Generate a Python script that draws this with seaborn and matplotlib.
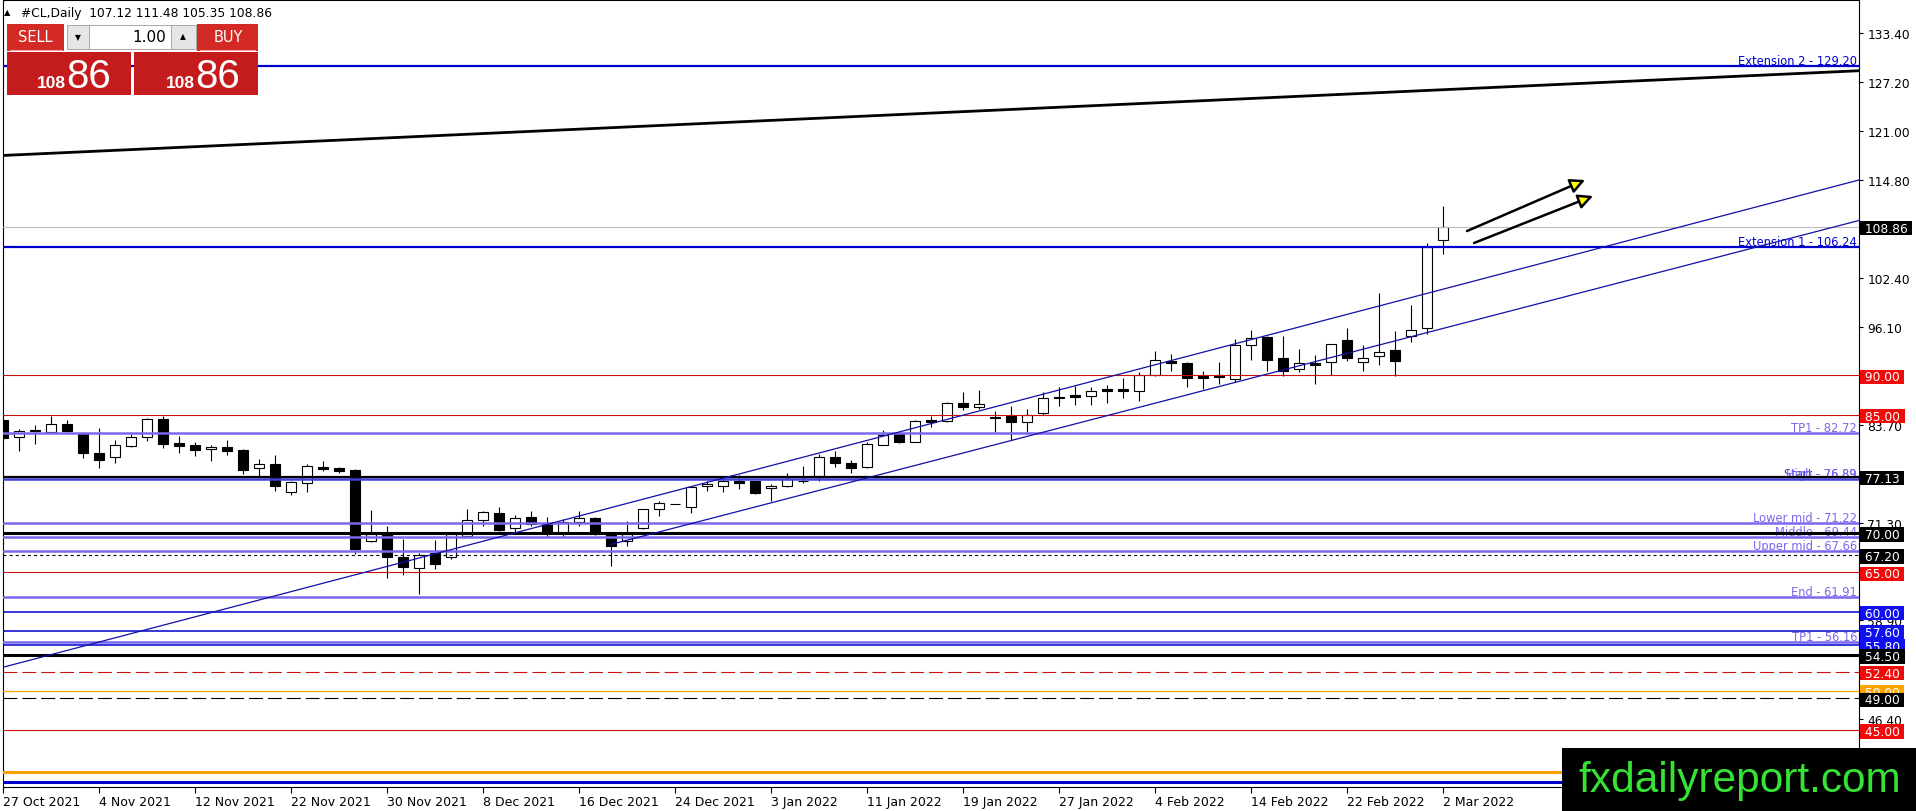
import numpy as np
import pandas as pd
import seaborn as sns
import matplotlib.pyplot as plt
import matplotlib.transforms as mtransforms
from matplotlib.patches import Rectangle

# #CL daily bars, one per weekday from 27 Oct 2021 to 2 Mar 2022
opens = [84.33, 82.13, 83.10, 82.85, 83.78, 82.68, 80.14, 79.59, 80.98, 82.13,
         84.45, 81.40, 81.15, 80.60, 80.90, 80.52, 78.19, 78.74, 75.15, 76.29,
         78.32, 78.19, 77.98, 69.02, 70.00, 66.91, 65.51, 67.46, 66.91, 69.57,
         71.69, 72.54, 70.59, 71.99, 71.14, 70.17, 71.35, 71.90, 69.87, 69.02,
         70.59, 73.04, 73.70, 73.25, 76.00, 75.91, 76.59, 76.55, 75.66, 75.91,
         76.60, 77.18, 79.59, 78.83, 78.32, 81.20, 82.55, 81.58, 84.33, 84.16,
         86.49, 86.02, 84.60, 84.88, 84.04, 85.17, 87.29, 87.50, 87.33, 88.26,
         88.26, 87.96, 90.08, 91.81, 91.56, 89.87, 90.04, 89.53, 93.85, 94.82,
         92.15, 90.80, 91.52, 91.64, 94.48, 91.64, 92.41, 93.21, 94.95, 95.96,
         107.12]
highs = [84.50, 83.18, 83.69, 84.88, 84.37, 82.75, 83.31, 81.79, 82.55, 84.62,
         84.88, 82.34, 81.50, 81.15, 81.74, 80.65, 79.38, 79.88, 76.63, 78.74,
         79.08, 78.40, 78.10, 72.92, 70.93, 69.24, 67.46, 69.11, 70.08, 73.04,
         72.83, 73.25, 72.28, 72.83, 71.99, 71.78, 72.83, 72.00, 70.08, 71.56,
         73.04, 74.10, 73.72, 76.00, 76.63, 77.27, 77.35, 76.60, 76.21, 77.56,
         78.54, 80.02, 80.36, 79.30, 81.50, 83.06, 82.85, 84.33, 84.80, 86.66,
         87.93, 88.18, 85.52, 86.07, 85.73, 87.93, 88.47, 88.68, 88.47, 88.77,
         89.61, 90.38, 93.13, 92.70, 91.65, 90.59, 91.64, 94.61, 95.75, 95.03,
         94.95, 93.34, 92.58, 93.93, 95.96, 93.85, 100.44, 95.66, 98.92, 106.75,
         111.48]
lows = [81.90, 80.43, 81.28, 82.80, 82.76, 79.55, 78.19, 78.83, 80.90, 81.70,
        80.73, 80.10, 79.72, 79.17, 79.93, 77.52, 77.26, 75.27, 74.81, 75.15,
        77.90, 77.60, 67.33, 68.81, 64.29, 64.71, 62.26, 65.43, 66.70, 69.50,
        70.93, 70.29, 70.08, 70.93, 69.45, 69.45, 70.93, 69.75, 65.85, 68.39,
        70.50, 72.20, 73.62, 72.49, 75.37, 75.24, 75.58, 75.00, 74.10, 75.85,
        76.30, 76.63, 78.41, 77.61, 78.25, 81.15, 81.37, 81.50, 83.40, 84.04,
        85.64, 85.73, 82.77, 81.84, 82.77, 84.96, 86.06, 86.27, 86.27, 86.44,
        87.08, 86.70, 89.95, 90.59, 88.47, 88.26, 88.90, 89.11, 91.98, 90.59,
        89.87, 90.38, 88.90, 90.04, 91.86, 90.59, 91.30, 89.95, 94.27, 95.24,
        105.35]
closes = [82.00, 82.89, 82.95, 83.78, 82.93, 80.10, 79.29, 81.15, 82.13, 84.45,
          81.24, 81.07, 80.56, 80.90, 80.40, 78.02, 78.74, 75.91, 76.42, 78.45,
          78.15, 77.90, 67.97, 69.87, 66.91, 65.64, 67.25, 66.06, 69.87, 71.65,
          72.62, 70.42, 71.86, 71.14, 70.00, 71.44, 71.90, 69.87, 68.39, 69.87,
          73.04, 73.76, 73.67, 75.79, 76.15, 76.55, 76.38, 75.11, 75.91, 76.84,
          76.65, 79.59, 78.83, 78.28, 81.24, 82.47, 81.58, 84.16, 84.12, 86.45,
          86.02, 86.32, 84.75, 84.04, 85.01, 87.08, 87.08, 87.20, 88.05, 88.05,
          87.96, 90.08, 91.94, 91.52, 89.61, 89.66, 89.83, 93.85, 94.69, 91.98,
          90.50, 91.60, 91.35, 93.93, 92.15, 92.15, 92.92, 91.86, 95.75, 106.24,
          108.86]

date_labels = ['27 Oct 2021', '4 Nov 2021', '12 Nov 2021', '22 Nov 2021', '30 Nov 2021',
               '8 Dec 2021', '16 Dec 2021', '24 Dec 2021', '3 Jan 2022', '11 Jan 2022',
               '19 Jan 2022', '27 Jan 2022', '4 Feb 2022', '14 Feb 2022', '22 Feb 2022',
               '2 Mar 2022']
bars_per_label = 6

price_ticks = [133.40, 127.20, 121.00, 114.80, 108.60, 102.40, 96.10, 90.00,
               83.70, 77.50, 71.30, 65.10, 58.90, 52.60, 46.40]

# horizontal levels
level_prices = [129.20, 108.86, 106.24, 90.00, 85.00, 82.72, 77.13, 76.89, 71.22, 70.00,
                69.44, 67.66, 67.20, 65.00, 61.91, 60.00, 57.60, 56.16, 55.80, 54.50,
                52.40, 50.00, 49.00, 45.00, 39.70, 38.45]
PURPLE = '#7B68EE'
BLUE = '#0000CD'
RED = '#CC1010'
level_styles = [(BLUE, 1.6, '-'), ('#BDBDBD', 0.8, '-'), (BLUE, 1.6, '-'), (RED, 0.8, '-'),
                (RED, 0.8, '-'), (PURPLE, 1.8, '-'), ('black', 1.6, '-'), ('#4040DD', 1.8, '-'),
                (PURPLE, 1.8, '-'), ('black', 2.2, '-'), (PURPLE, 1.8, '-'), (PURPLE, 1.8, '-'),
                ('black', 0.8, (0, (2.2, 2.2))), (RED, 0.8, '-'), (PURPLE, 1.8, '-'),
                (BLUE, 1.1, '-'), (BLUE, 1.1, '-'), (PURPLE, 1.8, '-'), (BLUE, 1.1, '-'),
                ('black', 2.2, '-'), (RED, 0.8, (0, (10, 3.6))), ('#FFA500', 0.9, '-'),
                ('black', 0.8, (0, (10, 3.6))), (RED, 0.8, '-'), ('#F5A000', 2.2, '-'),
                (BLUE, 2.2, '-')]

note_texts = ['Extension 2 - 129.20', 'Extension 1 - 106.24', 'TP1 - 82.72', 'Start - 76.89',
              'High - 76.89', 'Lower mid - 71.22', 'Middle - 69.44', 'Upper mid - 67.66',
              'End - 61.91', 'TP1 - 56.16']
note_prices = [129.20, 106.24, 82.72, 76.89, 76.89, 71.22, 69.44, 67.66, 61.91, 56.16]
note_colors = [BLUE, BLUE, PURPLE, '#4040DD', PURPLE, PURPLE, PURPLE, PURPLE, PURPLE, PURPLE]

box_prices = [108.86, 90.00, 85.00, 77.13, 70.00, 67.20, 65.00, 60.00, 57.60, 55.80,
              54.50, 52.40, 50.00, 49.00, 45.00]
box_colors = ['black', '#F00A0A', '#F00A0A', 'black', 'black', 'black', '#F00A0A', '#1010F0',
              '#1010F0', '#1010F0', 'black', '#F00A0A', '#FFA500', 'black', '#F00A0A']

# trend lines: (bar, price) anchors, drawn as rays to the right edge
channel_upper = ([0, 90], [52.96, 100.93])
channel_lower = ([38, 90], [68.55, 95.95])
top_trend = ([0, 116], [117.90, 128.65])
arrow_tails = [(91.5, 108.31), (91.94, 106.79)]
arrow_tips = [(98.88, 114.79), (99.38, 112.76)]

sns.set_theme(style='white')
plt.rcParams['font.family'] = ['DejaVu Sans']
plt.rcParams['lines.scale_dashes'] = False

W, H = 1916, 812
fig = plt.figure(figsize=(W / 100, H / 100), dpi=100, facecolor='white')
ax = fig.add_axes([3 / W, 24 / H, 1856 / W, 787 / H])
ax.set_facecolor('white')
XMAX = 116
ax.set_xlim(0, XMAX)
ax.set_ylim(37.765, 137.625)

n = len(opens)
df = pd.DataFrame({'bar': np.arange(n), 'open': opens, 'high': highs,
                   'low': lows, 'close': closes})
up = df['close'] >= df['open']

# levels
for p, (c, lw, ls) in zip(level_prices, level_styles):
    ax.axhline(p, color=c, lw=lw, ls=ls, zorder=3 if c == 'black' else 2.8)

# candles
ax.vlines(df['bar'], df['low'], df['high'], color='black', lw=0.8, zorder=2)
body = (df['close'] - df['open']).abs().clip(lower=0.05)
ax.bar(df['bar'], body, bottom=df[['open', 'close']].min(axis=1), width=0.66,
       color=np.where(up, 'white', 'black'), edgecolor='black', linewidth=0.8, zorder=2.5)

# trend lines
def ray(anchor, x_end):
    xs, ys = anchor
    slope = (ys[1] - ys[0]) / (xs[1] - xs[0])
    return pd.DataFrame({'x': [xs[0], x_end], 'y': [ys[0], ys[0] + slope * (x_end - xs[0])]})

for anchor, col, lw in [(channel_upper, '#1010A8', 0.9), (channel_lower, '#1010A8', 0.9),
                        (top_trend, 'black', 2.0)]:
    seg = ray(anchor, XMAX)
    sns.lineplot(data=seg, x='x', y='y', color=col, lw=lw, ax=ax, zorder=3.2)

for tail, tip in zip(arrow_tails, arrow_tips):
    ax.annotate('', xy=tip, xytext=tail,
                arrowprops=dict(arrowstyle='-|>', mutation_scale=22, lw=1.8,
                                fc='#FFFF00', ec='black', shrinkA=0, shrinkB=0), zorder=4)

# notes above levels
note_tr = mtransforms.offset_copy(ax.get_yaxis_transform(), fig=fig, x=-2, y=2, units='dots')
for t, p, c in zip(note_texts, note_prices, note_colors):
    ax.text(1.0, p, t, transform=note_tr, ha='right', va='baseline', fontsize=8.3,
            color=c, zorder=1.5)

# axes
ax.set_xticks([i * bars_per_label for i in range(len(date_labels))], date_labels)
for lab in ax.get_xticklabels():
    lab.set_ha('left')
ax.tick_params(axis='x', direction='out', length=4, width=0.8, pad=2, labelsize=9,
               colors='black', bottom=True)
ax.yaxis.tick_right()
ax.set_yticks(price_ticks, [f'{v:.2f}' for v in price_ticks])
ax.tick_params(axis='y', direction='out', length=3, width=0.8, pad=3, labelsize=8.8,
               colors='black', right=True, left=False)
for sp in ax.spines.values():
    sp.set_visible(True)
    sp.set_color('black')
    sp.set_linewidth(0.8)
ax.set_xlabel('')
ax.set_ylabel('')
ax.grid(False)

# price boxes on the scale
for p, c in zip(box_prices, box_colors):
    ax.text(1.0011, p, f' {p:.2f} ', transform=ax.get_yaxis_transform(), ha='left',
            va='center_baseline', fontsize=8.8, color='white', clip_on=False, zorder=6,
            bbox=dict(boxstyle='square,pad=0.05', fc=c, ec='none'))

# overlay in pixel units: header, trade panel, watermark
ov = fig.add_axes([0, 0, 1, 1], zorder=10)
ov.set_xlim(0, W)
ov.set_ylim(H, 0)
ov.axis('off')
ov.patch.set_alpha(0)

ov.text(4, 13, '\u25B2', fontsize=6, va='center', ha='left', color='black')
ov.text(21, 13, '#CL,Daily  107.12 111.48 105.35 108.86', fontsize=8.8, va='center',
        ha='left', color='black')

PANEL_RED = '#D42A26'
DARK_RED = '#C41C1C'
ov.add_patch(Rectangle((7, 25), 57, 27, fc=PANEL_RED, ec='none'))
ov.add_patch(Rectangle((197, 25), 61, 27, fc=PANEL_RED, ec='none'))
ov.plot([10, 62], [51, 51], color='#F2A0A0', lw=0.8)
ov.plot([200, 255], [51, 51], color='#F2A0A0', lw=0.8)
ov.add_patch(Rectangle((67, 26), 22, 24, fc='#E6E6E6', ec='#A8A8A8', lw=0.7))
ov.add_patch(Rectangle((89, 26), 82, 24, fc='white', ec='#A8A8A8', lw=0.7))
ov.add_patch(Rectangle((171, 26), 25, 24, fc='#E6E6E6', ec='#A8A8A8', lw=0.7))
ov.text(78, 38, '\u25BC', fontsize=5.5, ha='center', va='center', color='black')
ov.text(183, 37, '\u25B2', fontsize=5.5, ha='center', va='center', color='black')
ov.text(166, 37, '1.00', fontsize=11, ha='right', va='center', color='black')
ov.text(35, 38, 'SELL', fontsize=10.5, ha='center', va='center', color='white')
ov.text(228, 38, 'BUY', fontsize=10.5, ha='center', va='center', color='white')
ov.add_patch(Rectangle((7, 53), 124, 43, fc=DARK_RED, ec='none'))
ov.add_patch(Rectangle((134, 53), 124, 43, fc=DARK_RED, ec='none'))
for x0 in (37, 166):
    ov.text(x0, 88, '108', fontsize=12.5, ha='left', va='baseline', color='white',
            family=['Liberation Sans', 'DejaVu Sans'], weight='bold')
    ov.text(x0 + 29, 88, '86', fontsize=29, ha='left', va='baseline', color='white',
            family=['Liberation Sans', 'DejaVu Sans'])

ov.add_patch(Rectangle((1562, 749), W - 1562, H - 749, fc='black', ec='none'))
ov.text(1740, 781, 'fxdailyreport.com', fontsize=30.5, ha='center', va='center',
        color='#35E335', family=['Liberation Sans', 'DejaVu Sans'])

fig.savefig('out.png', dpi=100, facecolor='white')
